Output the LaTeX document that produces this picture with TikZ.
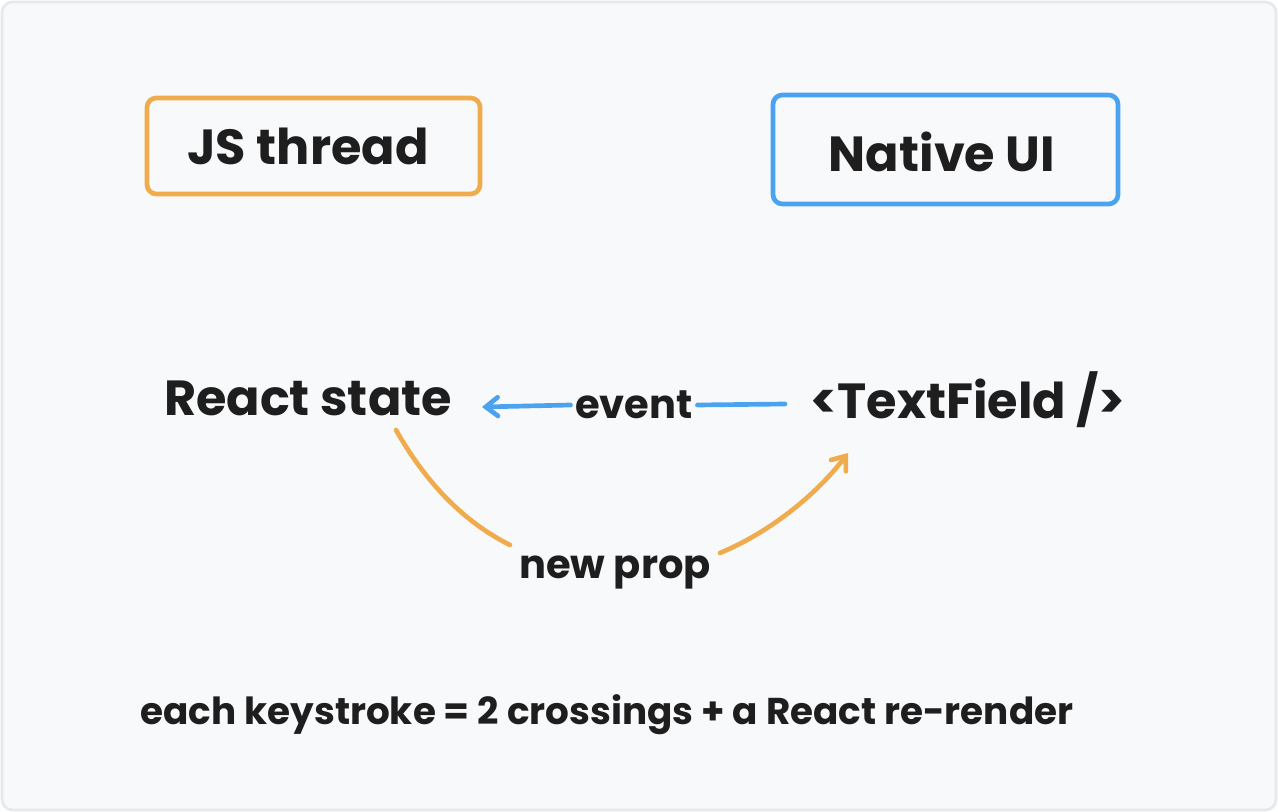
\documentclass[tikz,border=0pt]{standalone}
\usepackage{fontspec}
\setmainfont{Poppins}
\usetikzlibrary{arrows.meta}
\definecolor{bg}{HTML}{F8F9FB}
\definecolor{bd}{HTML}{E6E8EB}
\definecolor{org}{HTML}{F0AC4C}
\definecolor{blu}{HTML}{4BA2EE}
\definecolor{ink}{HTML}{1E1E1E}
\begin{document}
\begin{tikzpicture}[x=0.75pt,y=-0.75pt,
  box/.style={draw,line width=3.5pt,rounded corners=7pt},
  big/.style={text=ink,font=\fontsize{37}{40}\selectfont\bfseries,inner sep=0pt},
  mid/.style={text=ink,font=\fontsize{30}{34}\selectfont\bfseries},
  arr/.style={line width=3.5pt,-{Straight Barb[length=9pt,width=14pt,line cap=round]},line cap=round}]
\useasboundingbox (0,0) rectangle (1278,812);
\draw[bd,fill=bg,line width=2pt,rounded corners=8pt] (2,2) rectangle (1276,810);
\draw[box,org] (147,98) rectangle (480,194);
\draw[box,blu] (773,95) rectangle (1118,204);
\node[big] (js) at (308,146) {JS thread};
\node[big] (nu) at (942,152) {Native UI};
\node[big] (rs) at (308,398) {React state};
\node[big] (tf) at (968,400) {<TextField />};
\node[mid] (ev) at (634,405) {event};
\node[mid] (np) at (615,572) {new prop};
\node[text=ink,font=\fontsize{28}{32}\selectfont\bfseries] (note) at (607,715) {each keystroke = 2 crossings + a React re-render};
\coordinate (a1) at (785,404);
\coordinate (a2) at (482,407);
\draw[blu,line width=3.5pt,line cap=round] (a1) -- (ev.east);
\draw[blu,arr] (ev.west) -- (a2);
\coordinate (c1) at (396,430);
\coordinate (c2) at (848,453);
\draw[org,line width=3.5pt,line cap=round] (c1) .. controls (430,490) and (470,525) .. (510,545);
\draw[org,arr] (720,553) .. controls (775,530) and (820,490) .. (c2);
\end{tikzpicture}
\end{document}
